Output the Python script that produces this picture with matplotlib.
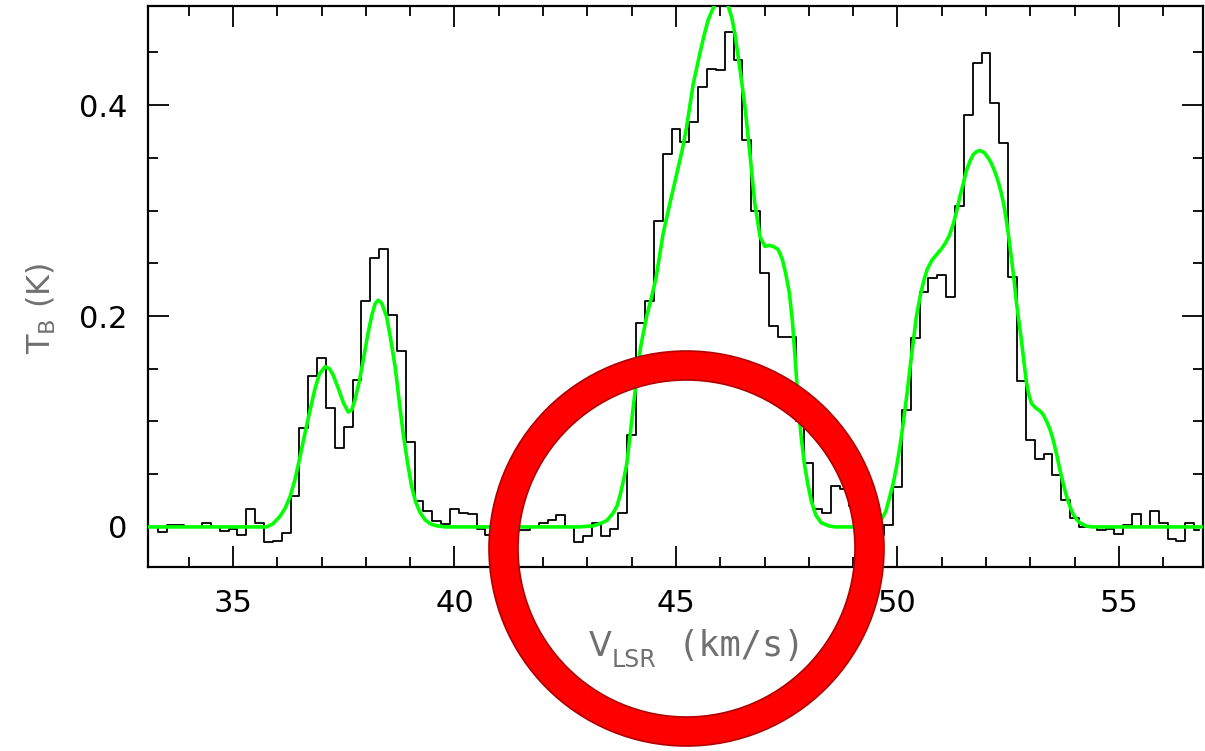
import numpy as np
import matplotlib
matplotlib.use("Agg")
import matplotlib.pyplot as plt
from matplotlib.patches import Annulus
from matplotlib.transforms import IdentityTransform
from matplotlib.ticker import MultipleLocator, FuncFormatter

# ---- data: observed spectrum (channel width 0.2 km/s, first channel centre 33.2 km/s)
v_start = 33.2
v_step = 0.2
tb_obs = [
    0.000, -0.005, 0.002, 0.002, 0.000, 0.000, 0.004, 0.000, -0.004, -0.002,
    -0.008, 0.017, 0.004, -0.014, -0.013, -0.006, 0.029, 0.094, 0.143, 0.160,
    0.113, 0.075, 0.095, 0.139, 0.214, 0.255, 0.264, 0.201, 0.167, 0.081,
    0.025, 0.015, 0.006, 0.003, 0.017, 0.013, 0.012, -0.002, -0.008, -0.004,
    0.000, -0.003, -0.003, 0.000, 0.004, 0.007, 0.011, 0.000, -0.014, -0.009,
    0.004, -0.009, -0.002, 0.013, 0.087, 0.193, 0.2145, 0.290, 0.354, 0.377,
    0.365, 0.384, 0.417, 0.434, 0.433, 0.469, 0.443, 0.367, 0.300, 0.241,
    0.191, 0.180, 0.180, 0.100, 0.061, 0.017, 0.013, 0.039, 0.036, 0.020,
    0.005, -0.005, -0.008, 0.002, 0.038, 0.111, 0.179, 0.223, 0.236, 0.239,
    0.218, 0.304, 0.391, 0.440, 0.449, 0.402, 0.364, 0.237, 0.138, 0.0825,
    0.064, 0.069, 0.049, 0.026, 0.008, 0.000, 0.000, -0.003, -0.002, -0.007,
    0.002, 0.012, 0.000, 0.0155, 0.004, -0.011, -0.013, 0.004, -0.0025,
]

# ---- data: fitted model (green)
fit_v = [
    33.0, 35.5, 35.76, 35.9, 36.06, 36.18, 36.29, 36.40, 36.51, 36.62, 36.74,
    36.85, 36.95, 37.08, 37.18, 37.26, 37.38, 37.49, 37.60, 37.68, 37.75,
    37.85, 37.94, 38.04, 38.13, 38.21, 38.28, 38.36, 38.47, 38.56, 38.66,
    38.75, 38.84, 38.94, 39.03, 39.12, 39.22, 39.33, 39.45, 39.6, 39.8,
    42.8, 43.13, 43.28, 43.44, 43.58, 43.67, 43.74, 43.82, 43.89, 43.96,
    44.04, 44.11, 44.20, 44.34, 44.45, 44.55, 44.71, 44.87, 45.02, 45.14,
    45.24, 45.39, 45.54, 45.64, 45.73, 45.88, 45.96, 46.03, 46.10, 46.18,
    46.26, 46.33, 46.44, 46.56, 46.67, 46.78, 46.90, 47.01, 47.10, 47.20,
    47.31, 47.40, 47.48, 47.56, 47.63, 47.70, 47.76, 47.82, 47.90, 47.98,
    48.06, 48.16, 48.28, 48.45, 48.6, 49.4, 49.52, 49.64, 49.74, 49.83,
    49.91, 49.98, 50.06, 50.13, 50.21, 50.28, 50.36, 50.43, 50.52, 50.60,
    50.67, 50.78, 50.90, 51.00, 51.08, 51.17, 51.26, 51.34, 51.41, 51.49,
    51.56, 51.64, 51.71, 51.79, 51.86, 51.96, 52.05, 52.12, 52.20, 52.28,
    52.35, 52.41, 52.46, 52.52, 52.58, 52.64, 52.69, 52.75, 52.80, 52.86,
    52.91, 52.97, 53.03, 53.12, 53.22, 53.30, 53.37, 53.45, 53.52, 53.60,
    53.67, 53.75, 53.82, 53.90, 53.97, 54.05, 54.12, 54.25, 54.4, 57.0,
]
fit_tb = [
    0.0, 0.0, 0.0, 0.003, 0.010, 0.018, 0.029, 0.045, 0.066, 0.088, 0.111,
    0.131, 0.145, 0.152, 0.150, 0.144, 0.131, 0.118, 0.109, 0.111, 0.120,
    0.138, 0.158, 0.182, 0.200, 0.212, 0.215, 0.212, 0.199, 0.178, 0.152,
    0.120, 0.089, 0.061, 0.039, 0.024, 0.014, 0.007, 0.003, 0.001, 0.0,
    0.0, 0.001, 0.003, 0.006, 0.013, 0.020, 0.030, 0.045, 0.060, 0.085,
    0.115, 0.140, 0.170, 0.200, 0.218, 0.236, 0.278, 0.308, 0.335, 0.357,
    0.379, 0.420, 0.449, 0.467, 0.481, 0.496, 0.502, 0.504, 0.501, 0.494,
    0.483, 0.468, 0.436, 0.398, 0.354, 0.307, 0.275, 0.266, 0.267, 0.266,
    0.263, 0.254, 0.240, 0.222, 0.195, 0.155, 0.118, 0.088, 0.060, 0.040,
    0.024, 0.011, 0.004, 0.001, 0.0, 0.0, 0.002, 0.007, 0.015, 0.029,
    0.042, 0.057, 0.077, 0.098, 0.124, 0.149, 0.176, 0.200, 0.220, 0.234,
    0.244, 0.253, 0.259, 0.264, 0.269, 0.276, 0.287, 0.300, 0.313, 0.326,
    0.338, 0.347, 0.353, 0.356, 0.357, 0.355, 0.350, 0.345, 0.337, 0.327,
    0.316, 0.304, 0.291, 0.273, 0.253, 0.232, 0.212, 0.193, 0.177, 0.156,
    0.138, 0.125, 0.117, 0.113, 0.110, 0.106, 0.100, 0.092, 0.082, 0.068,
    0.054, 0.040, 0.029, 0.019, 0.012, 0.007, 0.004, 0.001, 0.0, 0.0,
]

x_label_main = "V"
x_label_sub = "LSR"
x_label_unit = "(km/s)"
y_label = r"T$_\mathregular{B}$ (K)"

velocity = np.round(v_start + v_step * np.arange(len(tb_obs)), 3)

W, H = 1205, 751
fig = plt.figure(figsize=(W / 100, H / 100), dpi=100)
ax = fig.add_axes([148 / W, 1 - 567 / H, 1055 / W, 561 / H])

ax.step(velocity, tb_obs, where="mid", color="black", lw=1.3, zorder=2)
ax.plot(fit_v, fit_tb, color="#00ff00", lw=2.6, zorder=3, solid_capstyle="round")

ax.set_xlim(33.08, 56.9)
ax.set_ylim(-0.038, 0.494)

ax.xaxis.set_major_locator(MultipleLocator(5))
ax.xaxis.set_minor_locator(MultipleLocator(1))
ax.yaxis.set_major_locator(MultipleLocator(0.2))
ax.yaxis.set_minor_locator(MultipleLocator(0.05))
ax.yaxis.set_major_formatter(FuncFormatter(lambda v, p: "0" if abs(v) < 1e-9 else f"{v:.1f}"))
ax.xaxis.set_major_formatter(FuncFormatter(lambda v, p: f"{v:.0f}"))

ax.tick_params(which="both", direction="in", top=True, right=True, width=1.3, colors="black")
ax.tick_params(which="major", length=15)
ax.tick_params(which="minor", length=7.5)
ax.tick_params(axis="x", which="major", labelsize=22, pad=16)
ax.tick_params(axis="y", which="major", labelsize=22, pad=15)
for s in ax.spines.values():
    s.set_linewidth(1.6)

grey = "#707070"
fig.text(41 / W, 1 - 308 / H, y_label, rotation=90, ha="center", va="center",
         color=grey, fontsize=23)
# x label built from pieces (main letter, subscript, unit in monospace)
fig.text(589 / W, 1 - 656 / H, x_label_main, ha="left", va="baseline", color=grey, fontsize=24)
fig.text(612 / W, 1 - 667 / H, x_label_sub, ha="left", va="baseline", color=grey, fontsize=17)
fig.text(678 / W, 1 - 656 / H, x_label_unit, ha="left", va="baseline", color=grey,
         fontsize=25.5, family="DejaVu Sans Mono")

ring = Annulus((686.5, H - 548.5), 197.5, 29, transform=IdentityTransform(),
               facecolor="#ff0000", edgecolor="#b00000", lw=1.2, zorder=10)
fig.add_artist(ring)

fig.savefig("out.png", dpi=100)
